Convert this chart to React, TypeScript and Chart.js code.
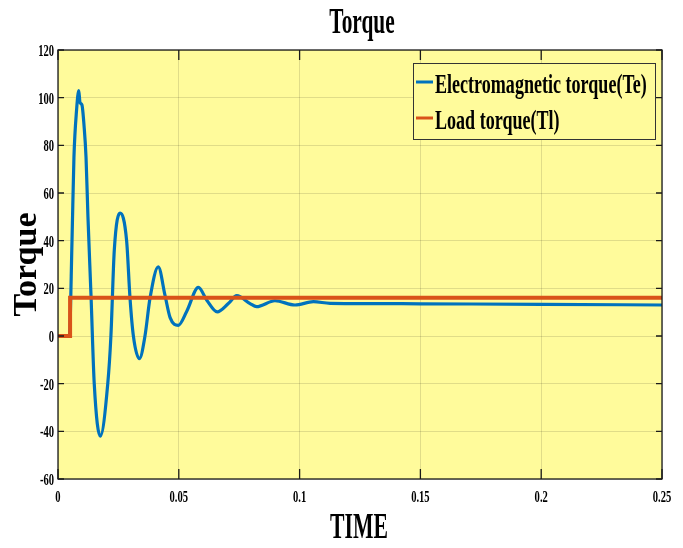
import { useEffect, useRef } from 'react';
import { Chart, registerables } from 'chart.js';

Chart.register(...registerables);

// Electromagnetic torque (Te) samples
const timeTe = [
  0, 0.0047, 0.0058, 0.0066, 0.0077, 0.0086, 0.0091, 0.0099, 0.0108, 0.0116, 0.0124,
  0.0137, 0.0150, 0.0175, 0.0206, 0.0219, 0.0233, 0.0257, 0.0284,
  0.0298, 0.0312, 0.0337, 0.0360, 0.0381, 0.0415, 0.0443, 0.0464, 0.0498, 0.0533,
  0.0581, 0.0616, 0.0659, 0.0705, 0.0740, 0.0795, 0.0822, 0.0898, 0.0981, 0.1057,
  0.1126, 0.13, 0.15, 0.2, 0.25,
];
const torqueTe = [
  0, 0, 40, 75, 95, 103, 98, 97, 88, 75, 50,
  16, -20, -42, -20, 0, 36, 51.6, 40,
  16, 0, -9.5, 0, 16, 29, 17, 7.7, 4.5, 10.4,
  20.4, 15, 10.1, 13.6, 16.9, 13.6, 12.3, 14.8, 13, 14.4,
  13.7, 13.6, 13.5, 13.3, 13.0,
];

// Load torque (Tl)
const timeTl = [0, 0.005, 0.005, 0.25];
const torqueTl = [0, 0, 16, 16];

const xTicks = [0, 0.05, 0.1, 0.15, 0.2, 0.25];
const xTickLabels = ['0', '0.05', '0.1', '0.15', '0.2', '0.25'];
const yTicks = [-60, -40, -20, 0, 20, 40, 60, 80, 100, 120];
const yTickLabels = ['-60', '-40', '-20', '0', '20', '40', '60', '80', '100', '120'];

const seriesNames = ['Electromagnetic torque(Te)', 'Load torque(Tl)'];
const seriesColors = ['#0072BD', '#D95319'];
const chartTitle = 'Torque';
const xTitle = 'TIME';
const yTitle = 'Torque';

const YELLOW = 'rgb(255, 251, 155)';
const SERIF = '"Liberation Serif", "Times New Roman", serif';

function drawText(
  ctx: CanvasRenderingContext2D,
  text: string,
  x: number,
  y: number,
  size: number,
  align: 'left' | 'center' | 'right',
  sx: number
) {
  ctx.save();
  ctx.font = `bold ${size}px ${SERIF}`;
  ctx.textBaseline = 'alphabetic';
  ctx.textAlign = 'left';
  const w = ctx.measureText(text).width * sx;
  const x0 = align === 'center' ? x - w / 2 : align === 'right' ? x - w : x;
  ctx.translate(x0, y);
  ctx.scale(sx, 1);
  ctx.fillStyle = '#000';
  ctx.fillText(text, 0, 0);
  ctx.restore();
}

const decorPlugin = {
  id: 'decor',
  beforeDraw(chart: any) {
    const { ctx, chartArea: a, width, height } = chart;
    ctx.save();
    ctx.fillStyle = '#ffffff';
    ctx.fillRect(0, 0, width, height);
    ctx.fillStyle = YELLOW;
    ctx.fillRect(a.left, a.top, a.right - a.left, a.bottom - a.top);
    ctx.restore();
  },
  afterDraw(chart: any) {
    const { ctx, chartArea: a } = chart;
    const xs = chart.scales.x;
    const ys = chart.scales.y;
    ctx.save();
    ctx.strokeStyle = '#1a1a1a';
    ctx.lineWidth = 1.3;
    ctx.strokeRect(a.left, a.top, a.right - a.left, a.bottom - a.top);
    ctx.beginPath();
    xTicks.forEach((v) => {
      const px = xs.getPixelForValue(v);
      ctx.moveTo(px, a.bottom);
      ctx.lineTo(px, a.bottom - 10);
      ctx.moveTo(px, a.top);
      ctx.lineTo(px, a.top + 10);
    });
    yTicks.forEach((v) => {
      const py = ys.getPixelForValue(v);
      ctx.moveTo(a.left, py);
      ctx.lineTo(a.left + 6, py);
      ctx.moveTo(a.right, py);
      ctx.lineTo(a.right - 6, py);
    });
    ctx.stroke();
    ctx.restore();

    xTicks.forEach((v, i) => {
      drawText(ctx, xTickLabels[i], xs.getPixelForValue(v), a.bottom + 23, 16, 'center', 0.66);
    });
    yTicks.forEach((v, i) => {
      drawText(ctx, yTickLabels[i], a.left - 4, ys.getPixelForValue(v) + 6, 16, 'right', 0.66);
    });

    const cx = (a.left + a.right) / 2;
    drawText(ctx, chartTitle, cx + 2, 33, 35, 'center', 0.61);
    drawText(ctx, xTitle, cx - 1, 538, 35, 'center', 0.62);
    ctx.save();
    ctx.translate(36, (a.top + a.bottom) / 2);
    ctx.rotate(-Math.PI / 2);
    ctx.font = `bold 34px ${SERIF}`;
    ctx.textAlign = 'center';
    ctx.textBaseline = 'alphabetic';
    ctx.fillStyle = '#000';
    ctx.fillText(yTitle, 0, 0);
    ctx.restore();

    const lx = 413, ly = 63, lw = 242, lh = 76;
    ctx.save();
    ctx.fillStyle = YELLOW;
    ctx.fillRect(lx, ly, lw, lh);
    ctx.strokeStyle = '#333333';
    ctx.lineWidth = 1;
    ctx.strokeRect(lx + 0.5, ly + 0.5, lw, lh);
    seriesNames.forEach((name, i) => {
      const rowY = ly + 19 + i * 36;
      ctx.strokeStyle = seriesColors[i];
      ctx.lineWidth = 3;
      ctx.beginPath();
      ctx.moveTo(lx + 3, rowY);
      ctx.lineTo(lx + 20, rowY);
      ctx.stroke();
      drawText(ctx, name, lx + 22, rowY + 10.5, 28, 'left', 0.645);
    });
    ctx.restore();
  },
};

export default function App() {
  const canvasRef = useRef<HTMLCanvasElement | null>(null);

  useEffect(() => {
    const canvas = canvasRef.current;
    if (!canvas) return;
    const chart = new Chart(canvas, {
      type: 'line',
      data: {
        datasets: [
          {
            label: seriesNames[0],
            data: timeTe.map((t, i) => ({ x: t, y: torqueTe[i] })),
            borderColor: seriesColors[0],
            borderWidth: 3.2,
            pointRadius: 0,
            cubicInterpolationMode: 'monotone',
            fill: false,
            order: 2,
          },
          {
            label: seriesNames[1],
            data: timeTl.map((t, i) => ({ x: t, y: torqueTl[i] })),
            borderColor: seriesColors[1],
            borderWidth: 4,
            pointRadius: 0,
            tension: 0,
            fill: false,
            order: 1,
          },
        ],
      },
      options: {
        responsive: false,
        animation: false,
        devicePixelRatio: 1,
        layout: { padding: { left: 58, top: 50, right: 21, bottom: 69 } },
        plugins: {
          legend: { display: false },
          tooltip: { enabled: false },
          title: { display: false },
        },
        scales: {
          x: {
            type: 'linear',
            min: 0,
            max: 0.25,
            ticks: { display: false, stepSize: 0.05 },
            grid: { color: 'rgba(0,0,0,0.12)', drawTicks: false, lineWidth: 1 },
            border: { display: false },
          },
          y: {
            type: 'linear',
            min: -60,
            max: 120,
            ticks: { display: false, stepSize: 20 },
            grid: { color: 'rgba(0,0,0,0.12)', drawTicks: false, lineWidth: 1 },
            border: { display: false },
          },
        },
      } as any,
      plugins: [decorPlugin],
    });
    return () => chart.destroy();
  }, []);

  return (
    <div style={{ position: 'absolute', left: 0, top: 0, width: 683, height: 548, background: '#fff' }}>
      <canvas ref={canvasRef} width={683} height={548} style={{ display: 'block' }} />
    </div>
  );
}
